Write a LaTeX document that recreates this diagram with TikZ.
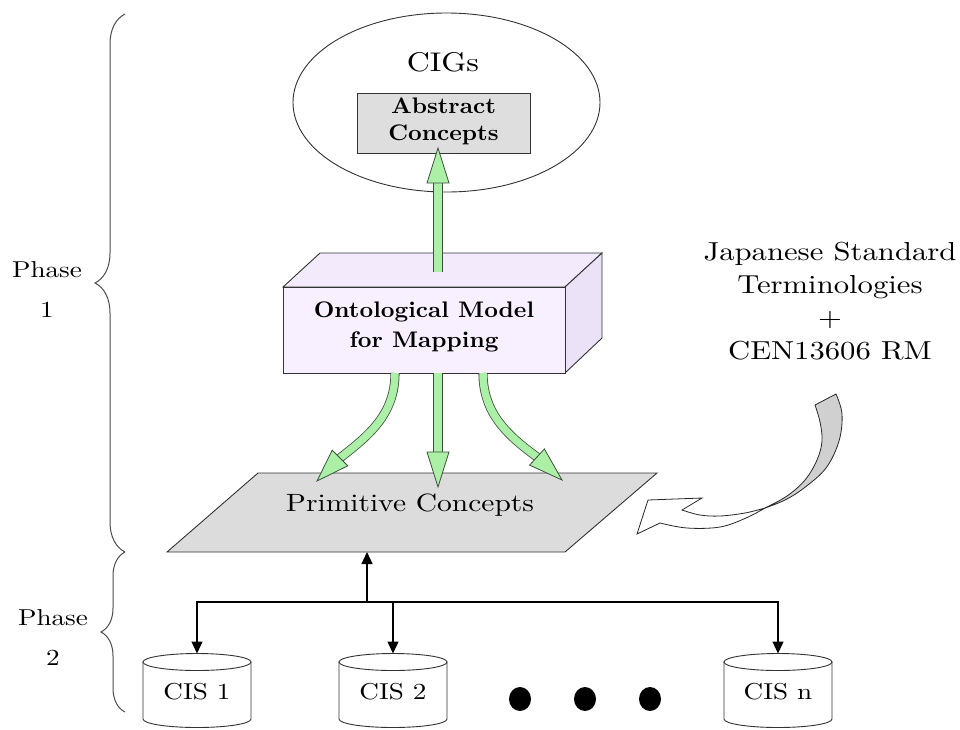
\documentclass[tikz,border=0pt]{standalone}
\usepackage{fontspec}
\usetikzlibrary{arrows.meta,decorations.pathreplacing,shapes.geometric}

% widened 10pt-design serif faces for the labels
\newfontfamily\widefont{lmroman10-regular.otf}[FakeStretch=1.18, BoldFont=lmroman10-bold.otf]
\newfontfamily\boldwide{lmroman10-bold.otf}[FakeStretch=1.06]

\definecolor{arrowgreen}{RGB}{172,240,168}
\definecolor{greenedge}{RGB}{60,80,60}
\definecolor{boxgray}{RGB}{222,222,222}
\definecolor{planegray}{RGB}{220,220,220}
\definecolor{ribbongray}{RGB}{208,208,208}
\definecolor{lavfront}{RGB}{248,240,255}
\definecolor{lavtop}{RGB}{243,234,252}
\definecolor{lavside}{RGB}{236,226,248}

\tikzset{
  outline/.style={draw=black!80, line width=0.9pt},
  link/.style={draw=black, line width=1.3pt},
  linkarrow/.style={link, -{Triangle[length=12pt,width=11pt]}},
  greenshaft/.style={draw=greenedge, line width=0.8pt, double=arrowgreen, double distance=7.5pt},
  greenhead/.style={fill=arrowgreen, draw=greenedge, line width=0.8pt, line join=miter},
  phaselabel/.style={font=\widefont\fontsize{23}{40}\selectfont, align=center, inner sep=0pt, anchor=north},
  phasebrace/.style={draw=black!70, line width=1pt, decorate},
  cislabel/.style={font=\widefont\fontsize{23}{26}\selectfont, inner sep=0pt},
  ribbon/.style={draw=black!85, line width=0.8pt, line join=miter},
}

\begin{document}
\begin{tikzpicture}[x=1pt, y=-1pt]
\useasboundingbox (0,0) rectangle (960,729);

% ---------- CIGs ellipse with abstract concepts ----------
\node[ellipse, outline, fill=white, minimum width=307pt, minimum height=179pt, inner sep=0pt] (cigs) at (446.5,102.5) {};
\node[font=\widefont\fontsize{27}{32}\selectfont, inner sep=0pt] (cigslabel) at (443,62.5) {CIGs};
\node[outline, fill=boxgray, minimum width=173pt, minimum height=60pt, inner sep=0pt] (abs) at (443.5,123) {};
\node[align=center, inner sep=0pt, font=\boldwide\fontsize{22.5}{27}\selectfont] (abslabel) at (443.5,121.5) {Abstract\\Concepts};

% ---------- ontological model block ----------
\filldraw[outline, fill=lavtop] (283,287) -- (320,253) -- (602,253) -- (565,287) -- cycle;
\filldraw[outline, fill=lavside] (565,287) -- (602,253) -- (602,338) -- (565,373) -- cycle;
\node[outline, fill=lavfront, minimum width=282pt, minimum height=86pt, inner sep=0pt] (onto) at (424,330) {};
\node[align=center, inner sep=0pt, font=\boldwide\fontsize{22.5}{30}\selectfont] (ontolabel) at (424,327) {Ontological Model\\for Mapping};

% upward arrow to the abstract concepts
\coordinate (upstart) at (438,272);
\coordinate (upbase) at (438,183);
\coordinate (uptip) at (438,148);
\draw[greenshaft] (upstart) -- (upbase);
\filldraw[greenhead] ([xshift=-11pt]upbase) -- ([xshift=11pt]upbase) -- (uptip) -- cycle;

% ---------- primitive concepts plane ----------
\filldraw[outline, fill=planegray] (167,552) -- (258,473) -- (657,473) -- (565,552) -- cycle;
\node[font=\widefont\fontsize{25}{30}\selectfont, inner sep=0pt] (prim) at (410,505) {Primitive Concepts};

% three downward arrows
\coordinate (dL) at (395,373);
\coordinate (dM) at (438,373);
\coordinate (dR) at (483,373);
\coordinate (bL) at (340,458);
\coordinate (bM) at (438,452);
\coordinate (bR) at (537,457);
\draw[greenshaft] (dL) .. controls (395,415) and (368,436) .. (bL);
\filldraw[greenhead] (332.2,450.2) -- (347.8,465.8) -- (317,481) -- cycle;
\draw[greenshaft] (dM) -- (bM);
\filldraw[greenhead] (427,452) -- (449,452) -- (438,487) -- cycle;
\draw[greenshaft] (dR) .. controls (483,415) and (510,437) .. (bR);
\filldraw[greenhead] (529.6,465.1) -- (544.4,448.9) -- (562,480) -- cycle;

% ---------- terminology sources ----------
\node[align=center, inner sep=0pt, anchor=north, font=\widefont\fontsize{26}{33}\selectfont] (jst) at (830,242)
  {Japanese Standard\\Terminologies\\+\\CEN13606 RM};

% curved ribbon arrow into the plane
\filldraw[ribbon, fill=ribbongray]
  plot[smooth, tension=0.6] coordinates {(815,405) (820,422) (822,441) (817,460) (805,480) (787,496) (765,508)}
  -- plot[smooth, tension=0.6] coordinates {(765,508) (785,500) (804,488) (826,468) (839,441) (842,414) (836,394)}
  -- cycle;
\filldraw[ribbon, fill=white]
  plot[smooth, tension=0.6] coordinates {(765,508) (745,513) (720,516) (700,515) (682,510)}
  -- (702,498) -- (648,500) -- (637,534) -- (660,523)
  -- plot[smooth, tension=0.6] coordinates {(660,523) (687,528) (720,527) (746,518) (765,508)}
  -- cycle;

% ---------- clinical information systems ----------
\foreach \cx/\nm/\txt in {197/1/CIS 1, 393/2/CIS 2, 778/n/CIS n}{
  \filldraw[outline, fill=white] (\cx-54,662) -- (\cx-54,719)
    arc[start angle=180, end angle=360, x radius=54pt, y radius=8.5pt] -- (\cx+54,662) -- cycle;
  \filldraw[outline, fill=white] (\cx,662) ellipse [x radius=54pt, y radius=8.5pt];
  \coordinate (top\nm) at (\cx,653.5);
  \node[cislabel] (cis\nm) at (\cx,692) {\txt};
}
\foreach \dx in {520,585,650}{
  \fill (\dx,699) ellipse [x radius=11pt, y radius=12pt];
}

% connectors from the systems to the plane
\coordinate (hub) at (367,602);
\coordinate (planebot) at (367,552);
\draw[linkarrow] (hub) -- (planebot);
\draw[linkarrow] (hub) -| (top1);
\draw[linkarrow] (hub) -| (top2);
\draw[linkarrow] (hub) -| (topn);

% ---------- phases ----------
\draw[phasebrace, decoration={brace, amplitude=30pt}] (125,552) -- (125,14);
\draw[phasebrace, decoration={brace, amplitude=24pt}] (125,712) -- (125,552);
\node[phaselabel] (phase1) at (47,261) {Phase\\1};
\node[phaselabel] (phase2) at (53,609) {Phase\\2};
\end{tikzpicture}
\end{document}
